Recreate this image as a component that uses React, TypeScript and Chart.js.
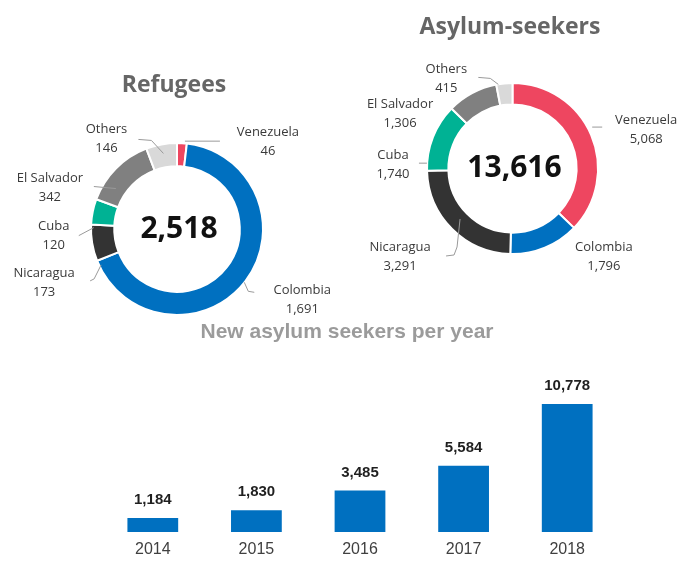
import React, { useEffect, useRef } from "react";
import { Chart, registerables } from "chart.js";

Chart.register(...registerables);

// ---------- data ----------
const countries = ["Venezuela", "Colombia", "Nicaragua", "Cuba", "El Salvador", "Others"];
const refugeeValues = [46, 1691, 173, 120, 342, 146];
const asylumValues = [5068, 1796, 3291, 1740, 1306, 415];
const years = ["2014", "2015", "2016", "2017", "2018"];
const newAsylumSeekers = [1184, 1830, 3485, 5584, 10778];

// ---------- styles ----------
const sliceColors = ["#EE4660", "#0070C0", "#333333", "#00B294", "#808080", "#D9D9D9"];
const barColor = "#0070C0";
const W = 679;
const H = 561;

type Pt = [number, number];
interface LabelLayout {
  t: Pt; // text block centre, offset from arc outer mid-point
  leader: Pt[]; // leader line points, offsets from arc outer mid-point
}

const refugeeLayout: LabelLayout[] = [
  { t: [86, -1], leader: [[3, -2], [38, -2]] },
  { t: [57, 18.5], leader: [[-1, 1], [3, 10], [9, 11]] },
  { t: [-48, 39.5], leader: [[9, 22], [2, 36], [-2, 38]] },
  { t: [-39, 24.5], leader: [[1, 16], [-14, 24]] },
  { t: [-66, 19.7], leader: [[0, 20], [-22, 18]] },
  { t: [-55, -6], leader: [[2, 9], [-10, -4], [-23, -5]] },
];

const asylumLayout: LabelLayout[] = [
  { t: [55, -5], leader: [[1, -8], [11, -8]] },
  { t: [59, 9], leader: [] },
  { t: [-52, 28], leader: [[8, -10], [5, 18], [2, 26], [-6, 27]] },
  { t: [-40, 28], leader: [[-6, 26], [-14, 26]] },
  { t: [-72, 21], leader: [] },
  { t: [-58, -5], leader: [[-6, 1], [-14, -5], [-26, -6]] },
];

const fmt = (n: number) => n.toLocaleString("en-US");

function doughnutConfig(
  values: number[],
  title: string,
  titlePos: Pt,
  center: Pt,
  radius: number,
  cutout: string,
  layout: LabelLayout[]
): any {
  const border = 2;
  const half = radius + border / 2;
  const total = values.reduce((a, b) => a + b, 0);
  const labelPlugin = {
    id: "doughnutLabels",
    afterDraw(chart: any) {
      const ctx = chart.ctx as CanvasRenderingContext2D;
      const meta = chart.getDatasetMeta(0);
      ctx.save();
      // title
      ctx.font = "bold 23px 'Open Sans'";
      ctx.fillStyle = "#666666";
      ctx.textAlign = "center";
      ctx.textBaseline = "middle";
      ctx.fillText(title, titlePos[0], titlePos[1]);
      // centre total
      const a0 = meta.data[0];
      ctx.font = "bold 30px 'Open Sans'";
      ctx.fillStyle = "#111111";
      ctx.fillText(fmt(total), a0.x + 2, a0.y);
      // slice labels
      meta.data.forEach((arc: any, i: number) => {
        const mid = (arc.startAngle + arc.endAngle) / 2;
        const px = arc.x + arc.outerRadius * Math.cos(mid);
        const py = arc.y + arc.outerRadius * Math.sin(mid);
        const lay = layout[i];
        if (lay.leader.length > 1) {
          ctx.beginPath();
          ctx.strokeStyle = "#9a9a9a";
          ctx.lineWidth = 1;
          lay.leader.forEach((p, k) => {
            if (k === 0) ctx.moveTo(px + p[0], py + p[1]);
            else ctx.lineTo(px + p[0], py + p[1]);
          });
          ctx.stroke();
        }
        const tx = px + lay.t[0];
        const ty = py + lay.t[1];
        ctx.font = "13px 'Open Sans'";
        ctx.fillStyle = "#3a3a3a";
        ctx.fillText(chart.data.labels[i], tx, ty - 9.5);
        ctx.fillText(fmt(chart.data.datasets[0].data[i]), tx, ty + 9.5);
      });
      ctx.restore();
    },
  };
  return {
    type: "doughnut",
    data: {
      labels: countries,
      datasets: [
        {
          data: values,
          backgroundColor: sliceColors,
          borderColor: "#ffffff",
          borderWidth: border,
        },
      ],
    },
    options: {
      responsive: false,
      animation: false,
      devicePixelRatio: 1,
      cutout,
      events: [],
      layout: {
        padding: {
          left: center[0] - half,
          right: W - (center[0] + half),
          top: center[1] - half,
          bottom: H - (center[1] + half),
        },
      },
      plugins: {
        legend: { display: false },
        tooltip: { enabled: false },
        title: { display: false },
      },
    },
    plugins: [labelPlugin],
  };
}

function barConfig(): any {
  const barLabelPlugin = {
    id: "barLabels",
    afterDraw(chart: any) {
      const ctx = chart.ctx as CanvasRenderingContext2D;
      const meta = chart.getDatasetMeta(0);
      ctx.save();
      ctx.textAlign = "center";
      ctx.textBaseline = "middle";
      ctx.font = "bold 21px 'Liberation Sans'";
      ctx.fillStyle = "#9b9b9b";
      ctx.fillText("New asylum seekers per year", 347, 332);
      ctx.font = "bold 15px 'Liberation Sans'";
      ctx.fillStyle = "#1f1f1f";
      meta.data.forEach((bar: any, i: number) => {
        ctx.fillText(fmt(chart.data.datasets[0].data[i]), bar.x, bar.y - 18);
      });
      ctx.restore();
    },
  };
  return {
    type: "bar",
    data: {
      labels: years,
      datasets: [
        {
          data: newAsylumSeekers,
          backgroundColor: barColor,
          barPercentage: 0.49,
          categoryPercentage: 1,
        },
      ],
    },
    options: {
      responsive: false,
      animation: false,
      devicePixelRatio: 1,
      events: [],
      layout: { padding: { left: 101, right: 60, top: 389.5, bottom: 2 } },
      scales: {
        x: {
          grid: { display: false, drawTicks: false },
          border: { display: false },
          ticks: {
            color: "#404040",
            font: { family: "'Liberation Sans'", size: 16 },
            padding: 8,
          },
          afterFit: (s: any) => {
            s.height = 27;
          },
        },
        y: { display: false, min: 0, max: 12000 },
      },
      plugins: {
        legend: { display: false },
        tooltip: { enabled: false },
        title: { display: false },
      },
    },
    plugins: [barLabelPlugin],
  };
}

function ChartCanvas({ make }: { make: () => any }) {
  const ref = useRef<HTMLCanvasElement | null>(null);
  useEffect(() => {
    if (!ref.current) return;
    const chart = new Chart(ref.current, make());
    return () => chart.destroy();
  }, [make]);
  return (
    <canvas
      ref={ref}
      width={W}
      height={H}
      style={{ position: "absolute", left: 0, top: 0, width: W, height: H }}
    />
  );
}

const makeRefugees = () =>
  doughnutConfig(refugeeValues, "Refugees", [174, 85], [177, 229], 86, "73%", refugeeLayout);
const makeAsylum = () =>
  doughnutConfig(asylumValues, "Asylum-seekers", [510, 27], [512.5, 168.5], 85.5, "75%", asylumLayout);
const makeBars = () => barConfig();

export default function App() {
  return (
    <div
      style={{
        position: "absolute",
        left: 0,
        top: 0,
        width: W,
        height: H,
        background: "#ffffff",
        overflow: "hidden",
      }}
    >
      <ChartCanvas make={makeBars} />
      <ChartCanvas make={makeRefugees} />
      <ChartCanvas make={makeAsylum} />
    </div>
  );
}
